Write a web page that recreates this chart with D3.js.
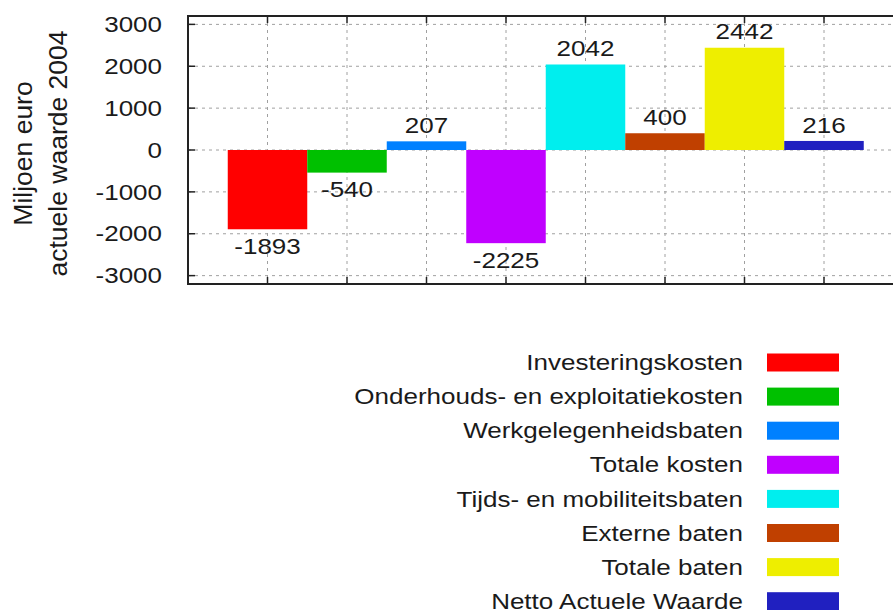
<!DOCTYPE html>
<html>
<head>
<meta charset="utf-8">
<script src="https://cdn.jsdelivr.net/npm/d3@7"></script>
<style>
  html, body { margin: 0; padding: 0; background: #fff; }
  svg { display: block; }
  text { font-family: "Liberation Sans", Arial, Helvetica, sans-serif; fill: #1a1a1a; }
</style>
</head>
<body>
<svg id="chart" width="893" height="610"></svg>
<script>
// ---- data ----
const categories = [
  "Investeringskosten",
  "Onderhouds- en exploitatiekosten",
  "Werkgelegenheidsbaten",
  "Totale kosten",
  "Tijds- en mobiliteitsbaten",
  "Externe baten",
  "Totale baten",
  "Netto Actuele Waarde"
];
const values = [-1893, -540, 207, -2225, 2042, 400, 2442, 216];
const colors = ["#ff0000", "#00c000", "#0080ff", "#c000ff", "#00eeee", "#c04000", "#eeee00", "#2020c0"];
const yTicks = [3000, 2000, 1000, 0, -1000, -2000, -3000];
const yTitle = ["Miljoen euro", "actuele waarde 2004"];

// ---- layout ----
const W = 893, H = 610;
const plot = { left: 188, top: 16, bottom: 284, right: 893 };
const svg = d3.select("#chart");

const x = d3.scaleLinear().domain([0, 9]).range([plot.left, plot.left + 9 * 79.5]);
const y = d3.scaleLinear().domain([-3200, 3200]).range([plot.bottom, plot.top]);

const FS = 26, SY = 0.84;

function hText(g, tx, ty, str, anchor) {
  const t = g.append("g").attr("transform", `translate(${tx},${ty}) scale(1,${SY})`);
  t.append("text")
    .attr("text-anchor", anchor)
    .attr("dy", "0.35em")
    .style("font-size", FS + "px")
    .text(str);
  return t;
}

// grid
const grid = svg.append("g");
grid.selectAll("line.hy").data(yTicks).enter().append("line")
  .attr("x1", plot.left).attr("x2", plot.right)
  .attr("y1", d => y(d)).attr("y2", d => y(d))
  .attr("stroke", "#a0a0a0").attr("stroke-width", 1).attr("stroke-dasharray", "3,4");
grid.selectAll("line.vx").data(d3.range(1, categories.length + 1)).enter().append("line")
  .attr("x1", d => x(d)).attr("x2", d => x(d))
  .attr("y1", plot.top).attr("y2", plot.bottom)
  .attr("stroke", "#a0a0a0").attr("stroke-width", 1).attr("stroke-dasharray", "3,4");

// bars
svg.append("g").selectAll("rect").data(values).enter().append("rect")
  .attr("x", (d, i) => x(i + 0.5))
  .attr("width", (d, i) => x(i + 1.5) - x(i + 0.5))
  .attr("y", d => y(Math.max(0, d)))
  .attr("height", d => Math.abs(y(d) - y(0)))
  .attr("fill", (d, i) => colors[i]);

// value labels
const lab = svg.append("g");
values.forEach((v, i) => {
  const ty = v >= 0 ? y(v) - 16 : y(v) + 17;
  hText(lab, x(i + 1), ty, String(v), "middle");
});

// frame
const frame = svg.append("g").attr("stroke", "#222").attr("stroke-width", 2);
frame.append("line").attr("x1", plot.left).attr("x2", plot.right).attr("y1", plot.top).attr("y2", plot.top);
frame.append("line").attr("x1", plot.left).attr("x2", plot.right).attr("y1", plot.bottom).attr("y2", plot.bottom);
frame.append("line").attr("x1", plot.left).attr("x2", plot.left).attr("y1", plot.top - 1).attr("y2", plot.bottom + 1);

// ticks
const ticks = svg.append("g").attr("stroke", "#222").attr("stroke-width", 1.5);
yTicks.forEach(t => {
  ticks.append("line").attr("x1", plot.left).attr("x2", plot.left + 7).attr("y1", y(t)).attr("y2", y(t));
});
d3.range(1, categories.length + 1).forEach(t => {
  ticks.append("line").attr("x1", x(t)).attr("x2", x(t)).attr("y1", plot.bottom).attr("y2", plot.bottom - 7);
  ticks.append("line").attr("x1", x(t)).attr("x2", x(t)).attr("y1", plot.top).attr("y2", plot.top + 7);
});

// y tick labels
const yl = svg.append("g");
yTicks.forEach(t => hText(yl, 162, y(t), String(t), "end"));

// y title
const yt = svg.append("g");
[32, 67].forEach((bx, i) => {
  yt.append("text")
    .attr("transform", `translate(${bx},153.5) rotate(-90)`)
    .attr("text-anchor", "middle")
    .style("font-size", "26.5px")
    .text(yTitle[i]);
});

// legend
const leg = svg.append("g");
categories.forEach((c, i) => {
  const cy = 362.5 + i * 34.1;
  hText(leg, 743, cy, c, "end");
  leg.append("rect")
    .attr("x", 767).attr("y", cy - 9)
    .attr("width", 72).attr("height", 18)
    .attr("fill", colors[i]);
});
</script>
</body>
</html>
